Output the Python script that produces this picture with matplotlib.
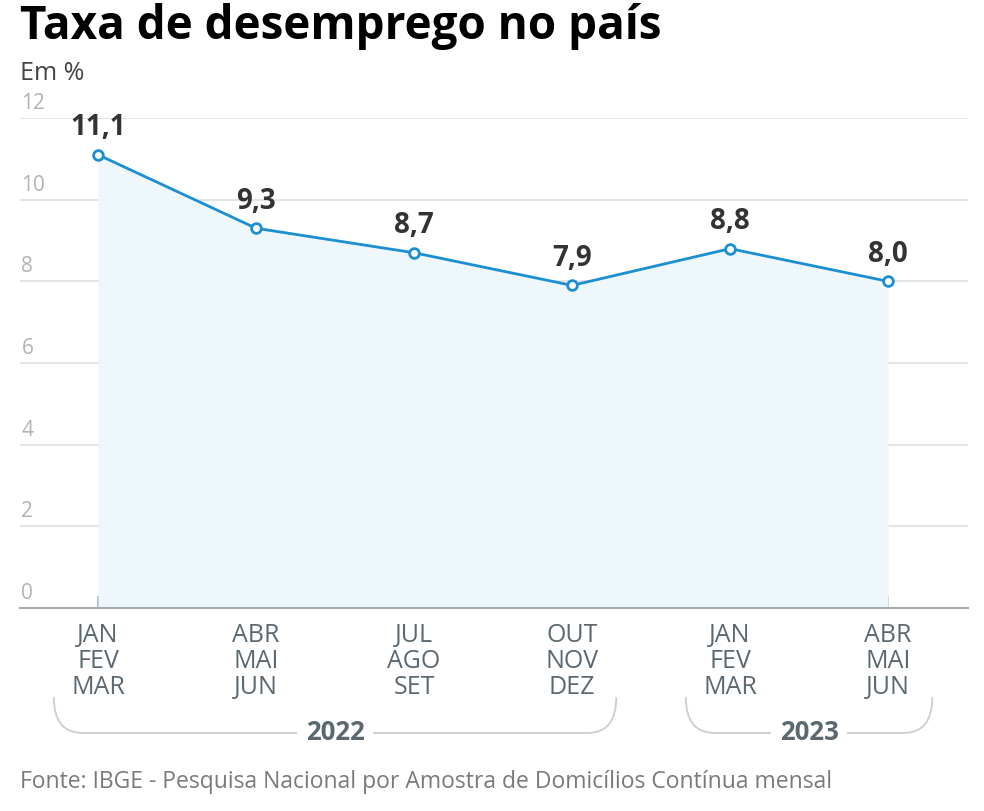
import matplotlib
matplotlib.use("Agg")
import matplotlib.pyplot as plt
from matplotlib.path import Path
from matplotlib.patches import PathPatch
from matplotlib.transforms import blended_transform_factory

plt.rcParams["font.family"] = ["Open Sans", "DejaVu Sans"]

# data
periods = ["JAN\nFEV\nMAR", "ABR\nMAI\nJUN", "JUL\nAGO\nSET",
           "OUT\nNOV\nDEZ", "JAN\nFEV\nMAR", "ABR\nMAI\nJUN"]
rates = [11.1, 9.3, 8.7, 7.9, 8.8, 8.0]
year_groups = [("2022", 0, 3), ("2023", 4, 5)]
yticks = [0, 2, 4, 6, 8, 10, 12]

LINE = "#1b8fd1"
FILL = "#eef7fc"
GRID = "#e4e4e4"
AXIS = "#a3adb3"
TXT = "#5b6870"

fig = plt.figure(figsize=(9.84, 8.11), dpi=100)
ax = fig.add_axes([20 / 984, 1 - 608 / 811, 948 / 984, 490 / 811])

x = list(range(len(rates)))
ax.fill_between(x, rates, 0, color=FILL, zorder=1, lw=0)
ax.plot(x, rates, color=LINE, lw=2, zorder=3, marker="o", ms=7,
        mfc="white", mec=LINE, mew=2)

for xi, v in zip(x, rates):
    ax.annotate(f"{v:.1f}".replace(".", ","), (xi, v), xytext=(0, 9),
                textcoords="offset points", ha="center", va="bottom",
                fontsize=20, fontweight="bold", color="#333333", zorder=4)

ax.set_xlim(-0.494, 5.506)
ax.set_ylim(0, 12)
ax.set_yticks(yticks)
ax.set_yticklabels([])
ax.tick_params(axis="y", length=0)
ax.grid(axis="y", color=GRID, lw=1.5, zorder=0)
ax.set_axisbelow(True)
for v in yticks:
    ax.annotate(str(v), (0, v), xycoords=ax.get_yaxis_transform(),
                xytext=(1, 3), textcoords="offset points", ha="left",
                va="bottom", fontsize=15, color="#b3b3b3")

ax.set_xticks(x)
ax.set_xticklabels(periods, fontsize=18, color=TXT, linespacing=1.05)
ax.tick_params(axis="x", direction="in", length=9, width=1.2,
               color=AXIS, pad=11)
for s in ["top", "right", "left"]:
    ax.spines[s].set_visible(False)
ax.spines["bottom"].set_color(AXIS)
ax.spines["bottom"].set_linewidth(1.5)
ax.spines["bottom"].set_zorder(5)

# year brackets under the tick labels
tr = blended_transform_factory(ax.transData, ax.transAxes)
y_top, y_bot = -0.182, -0.255
pad, r = 0.28, 0.18
for year, i0, i1 in year_groups:
    x0, x1 = i0 - pad, i1 + pad
    verts = [(x0, y_top), (x0, y_bot), (x0 + r, y_bot),
             (x1 - r, y_bot), (x1, y_bot), (x1, y_top)]
    codes = [Path.MOVETO, Path.CURVE3, Path.CURVE3,
             Path.LINETO, Path.CURVE3, Path.CURVE3]
    ax.add_patch(PathPatch(Path(verts, codes), transform=tr, fill=False,
                           edgecolor="#c9cfd3", lw=1.3, clip_on=False))
    ax.text((x0 + x1) / 2, y_bot, year, transform=tr, ha="center",
            va="center", fontsize=18.5, fontweight="bold", color=TXT,
            bbox=dict(facecolor="white", edgecolor="none", pad=6))

fig.text(20 / 984, 1 - 27 / 811, "Taxa de desemprego no país", fontsize=33,
         fontweight="bold", color="black", ha="left", va="center")
fig.text(20 / 984, 1 - 73 / 811, "Em %", fontsize=18, color="#444444",
         ha="left", va="center")
fig.text(20 / 984, 1 - 782 / 811,
         "Fonte: IBGE - Pesquisa Nacional por Amostra de Domicílios Contínua mensal",
         fontsize=16.5, color="#7a7a7a", ha="left", va="center")

fig.savefig("out.png", dpi=100)
